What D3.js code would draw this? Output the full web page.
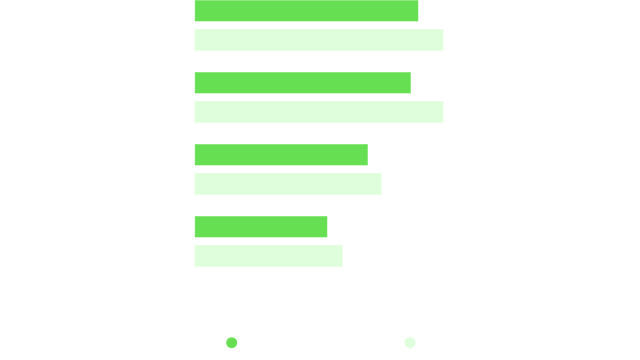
<!DOCTYPE html>
<html>
<head>
<meta charset="utf-8">
<script src="https://cdn.jsdelivr.net/npm/d3@7"></script>
<style>
  html, body { margin: 0; padding: 0; background: #ffffff; }
  svg { display: block; }
</style>
</head>
<body>
<svg id="chart" width="640" height="360"></svg>
<script>
const categories = ["A", "B", "C", "D"];
const seriesNames = ["Series 1", "Series 2"];
const series1 = [90, 87, 69.7, 53.4];
const series2 = [100, 100, 75.1, 59.5];
const colors = ["#66e052", "#dfffdc"];

const svg = d3.select("#chart");
const x = d3.scaleLinear().domain([0, 100]).range([194.7, 443.3]);
const y0 = d3.scaleBand().domain(categories).range([0, 288]).paddingInner(0).paddingOuter(0);
const y1 = d3.scaleBand().domain(seriesNames).range([0, 50.7]).paddingInner(0.26).paddingOuter(0);

const data = categories.map((c, i) => ({ cat: c, vals: [series1[i], series2[i]] }));

const g = svg.append("g");
const groups = g.selectAll("g.grp").data(data).enter().append("g")
  .attr("transform", d => `translate(0,${y0(d.cat)})`);

groups.selectAll("rect").data(d => d.vals.map((v, j) => ({ v, s: seriesNames[j], j })))
  .enter().append("rect")
  .attr("x", x(0))
  .attr("y", d => y1(d.s))
  .attr("height", y1.bandwidth())
  .attr("width", d => x(d.v) - x(0))
  .attr("fill", d => colors[d.j])
  .attr("stroke", d => d.j === 0 ? "#ffffff" : "none")
  .attr("stroke-opacity", 0.5)
  .attr("stroke-width", 1);

const legendX = d3.scalePoint().domain(seriesNames).range([231.7, 410]);
svg.append("g").selectAll("circle").data(seriesNames).enter().append("circle")
  .attr("cx", d => legendX(d))
  .attr("cy", 342.7)
  .attr("r", 5.5)
  .attr("fill", (d, i) => colors[i]);
</script>
</body>
</html>
